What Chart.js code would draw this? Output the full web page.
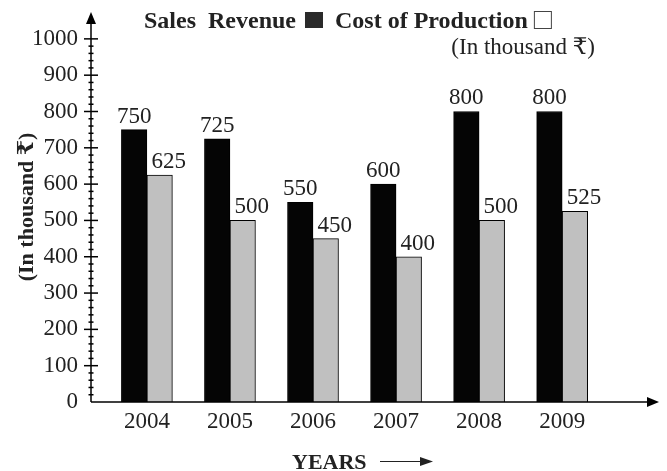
<!DOCTYPE html>
<html>
<head>
<meta charset="utf-8">
<script src="https://cdn.jsdelivr.net/npm/chart.js@4"></script>
<style>
    body { margin: 0; background: #fff; }
    #caixa { width: 667px; height: 471px; }
</style>
</head>
<body>
<div id="caixa"><canvas id="vendas-custo"></canvas></div>
<script>
const anos = ['2004', '2005', '2006', '2007', '2008', '2009'];
const receita = [750, 725, 550, 600, 800, 800];
const custo = [625, 500, 450, 400, 500, 525];
const ticksY = [0, 100, 200, 300, 400, 500, 600, 700, 800, 900, 1000];

const serif = '"Liberation Serif", "DejaVu Serif", serif';
const tinta = '#222';

// eixos com setas, marcas menores, rótulos dos valores e cabeçalho
const eixos = {
    id: 'eixos',
    afterDraw(chart) {
        const ctx = chart.ctx;
        const a = chart.chartArea;
        const y = chart.scales.y;
        ctx.save();
        ctx.strokeStyle = '#000';
        ctx.fillStyle = '#000';
        ctx.lineWidth = 1.5;

        // eixo y
        ctx.beginPath();
        ctx.moveTo(a.left, a.bottom);
        ctx.lineTo(a.left, a.top + 6);
        ctx.stroke();
        ctx.beginPath();
        ctx.moveTo(a.left, a.top);
        ctx.lineTo(a.left - 5, a.top + 12);
        ctx.lineTo(a.left + 5, a.top + 12);
        ctx.closePath();
        ctx.fill();

        // eixo x
        ctx.beginPath();
        ctx.moveTo(a.left, a.bottom);
        ctx.lineTo(a.right - 6, a.bottom);
        ctx.stroke();
        ctx.beginPath();
        ctx.moveTo(a.right, a.bottom);
        ctx.lineTo(a.right - 12, a.bottom - 5);
        ctx.lineTo(a.right - 12, a.bottom + 5);
        ctx.closePath();
        ctx.fill();

        // marcas
        for (let v = 20; v <= 1000; v += 20) {
            const py = y.getPixelForValue(v);
            const meia = v % 100 === 0 ? 7 : 2.5;
            ctx.beginPath();
            ctx.moveTo(a.left - meia, py);
            ctx.lineTo(a.left + meia, py);
            ctx.stroke();
        }

        // valores acima das barras
        ctx.fillStyle = tinta;
        ctx.font = '23px ' + serif;
        ctx.textAlign = 'center';
        ctx.textBaseline = 'alphabetic';
        chart.data.datasets.forEach((ds, i) => {
            chart.getDatasetMeta(i).data.forEach((barra, j) => {
                const desloc = i === 1 ? 9 : 0;
                ctx.fillText(ds.data[j].y, barra.x + desloc, barra.y - 7);
            });
        });

        // cabeçalho
        ctx.textAlign = 'left';
        ctx.font = 'bold 24px ' + serif;
        let cx = 144;
        const base = 28;
        ctx.fillText('Sales  Revenue', cx, base);
        cx += ctx.measureText('Sales  Revenue').width + 9;
        ctx.fillStyle = '#2a2a2a';
        ctx.fillRect(cx, base - 16, 18, 16);
        cx += 18 + 12;
        ctx.fillStyle = tinta;
        ctx.fillText('Cost of Production', cx, base);
        cx += ctx.measureText('Cost of Production').width + 6;
        ctx.lineWidth = 1;
        ctx.strokeStyle = '#444';
        ctx.strokeRect(cx + 0.5, base - 16.5, 17, 17);

        ctx.font = '23px ' + serif;
        ctx.textAlign = 'right';
        ctx.fillText('(In thousand ₹)', 595, 54);

        // título do eixo x
        ctx.font = 'bold 22px ' + serif;
        ctx.textAlign = 'left';
        ctx.fillText('YEARS', 292, 469);
        ctx.strokeStyle = tinta;
        ctx.lineWidth = 1.2;
        ctx.beginPath();
        ctx.moveTo(380, 461.5);
        ctx.lineTo(424, 461.5);
        ctx.stroke();
        ctx.beginPath();
        ctx.moveTo(433, 461.5);
        ctx.lineTo(420, 457);
        ctx.lineTo(420, 466);
        ctx.closePath();
        ctx.fill();

        ctx.restore();
    }
};

const grfc = document.getElementById('vendas-custo');

new Chart(grfc, {
    type: 'bar',
    data: {
        datasets: [{
            label: 'Sales Revenue',
            data: receita.map((v, i) => ({ x: i, y: v })),
            backgroundColor: '#050505',
            borderColor: '#000',
            borderWidth: 1,
            barThickness: 25.5
        }, {
            label: 'Cost of Production',
            data: custo.map((v, i) => ({ x: i, y: v })),
            backgroundColor: '#c0c0c0',
            borderColor: '#000',
            borderWidth: 1,
            barThickness: 25.5
        }]
    },
    options: {
        responsive: true,
        maintainAspectRatio: false,
        animation: false,
        layout: {
            padding: { left: 0, top: 12, right: 8, bottom: 0 }
        },
        plugins: {
            legend: { display: false },
            tooltip: { enabled: false }
        },
        scales: {
            x: {
                type: 'linear',
                offset: false,
                min: -0.673,
                max: 6.166,
                afterBuildTicks: s => { s.ticks = anos.map((_, i) => ({ value: i })); },
                afterFit: s => { s.height = 69; s.paddingLeft = 0; s.paddingRight = 0; },
                grid: { display: false, drawTicks: false },
                border: { display: false },
                ticks: {
                    callback: v => anos[v],
                    autoSkip: false,
                    maxRotation: 0,
                    padding: 6,
                    color: tinta,
                    font: { family: serif, size: 23 }
                }
            },
            y: {
                min: 0,
                max: 1074,
                afterBuildTicks: s => { s.ticks = ticksY.map(v => ({ value: v })); },
                afterFit: s => { s.width = 91; s.paddingTop = 0; s.paddingBottom = 0; },
                grid: { display: false, drawTicks: false },
                border: { display: false },
                ticks: {
                    callback: v => String(v),
                    padding: 13,
                    color: tinta,
                    font: { family: serif, size: 23 }
                },
                title: {
                    display: true,
                    text: '(In thousand ₹)',
                    color: tinta,
                    padding: { top: 14 },
                    font: { family: serif, size: 22, weight: 'bold' }
                }
            }
        }
    },
    plugins: [eixos]
});
</script>
</body>
</html>
